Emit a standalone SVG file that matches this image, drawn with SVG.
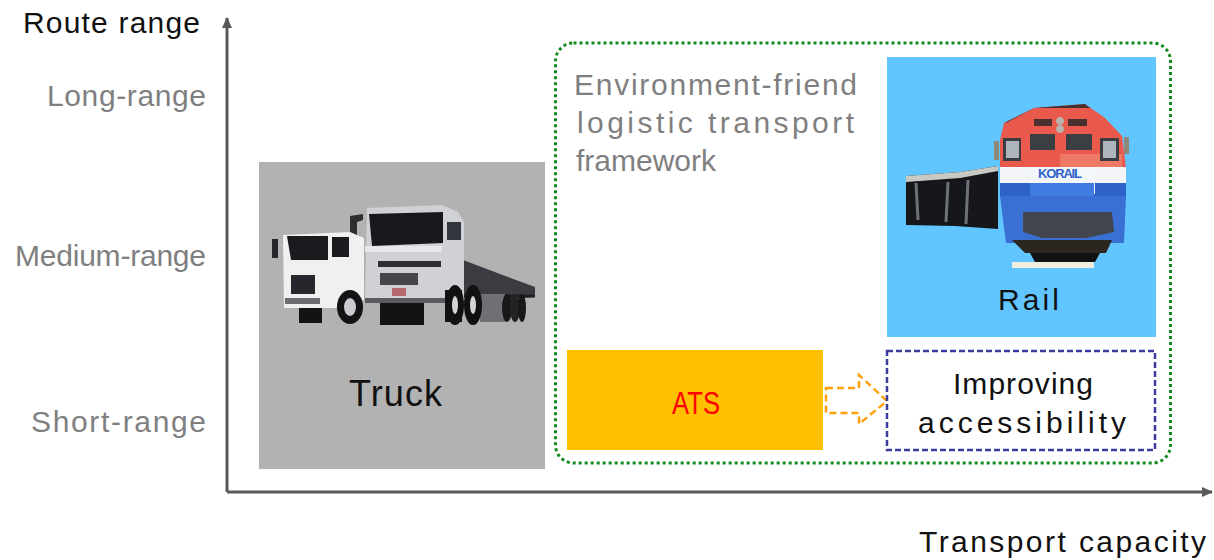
<svg xmlns="http://www.w3.org/2000/svg" width="1214" height="560" viewBox="0 0 1214 560">
<style>
text{font-family:"Liberation Sans","DejaVu Sans",sans-serif;font-size:30px;fill:#111}
.g{fill:#7f7f7f}
.ax{fill:none;stroke:#595959;stroke-width:3}
</style>
<defs>
<marker id="ah" markerWidth="12" markerHeight="12" refX="10" refY="5" orient="auto" markerUnits="userSpaceOnUse"><path d="M0 0L11 5L0 10Z" fill="#595959"/></marker>
</defs>
<rect width="1214" height="560" fill="#fff"/>
<g id="connectors">
<path class="ax" d="M227 492V18" marker-end="url(#ah)"/>
<path class="ax" d="M227 492H1212" marker-end="url(#ah)"/>
<path d="M826 388H859V375L887 401L859 424V413H826Z" fill="#fff" stroke="#ffa00f" stroke-width="2.5" stroke-dasharray="7 4"/>
</g>
<g id="axis-labels">
<text x="23" y="33" textLength="177">Route range</text>
<text class="g" x="47" y="106" textLength="159">Long-range</text>
<text class="g" x="15" y="266" textLength="191">Medium-range</text>
<text class="g" x="31" y="432" textLength="175">Short-range</text>
<text x="919" y="552" textLength="287">Transport capacity</text>
</g>
<g id="framework">
<rect x="555.500" y="43" width="615" height="420" rx="18" fill="none" stroke="#138a1e" stroke-width="3" stroke-dasharray="3 3"/>
<text class="g" x="574" y="95" textLength="283">Environment-friend</text>
<text class="g" x="577" y="133" textLength="277">logistic transport</text>
<text class="g" x="576" y="171" textLength="140">framework</text>
</g>
<g id="truck">
<rect x="259" y="162" width="286" height="307" fill="#b2b2b2"/>
<path d="M463 260L535 287V297L500 300L463 296Z" fill="#3a3c42"/>
<path d="M463 296H535" stroke="#1f2023" stroke-width="3"/>
<path d="M480 294H505V322H480Z" fill="#6f7076"/>
<path d="M272 239H278V258H272Z" fill="#26262a"/>
<path d="M350 216L363 214V220L357 222V252H350Z" fill="#2e2e30"/>
<path d="M283 235L350 232L364 238V300L335 308H284Z" fill="#f0f0f0"/>
<path d="M287 236H328V260H291ZM332 237H349V257H332Z" fill="#1b1b1f"/>
<path d="M291 275H315V294H291Z" fill="#26272c"/>
<path d="M285 298H320V304H285Z" fill="#6d6e72"/>
<path d="M299 308H322V323H299Z" fill="#131315"/>
<path d="M367 208L442 205L458 212L464 222V303H365Z" fill="#cfd1d6"/>
<path d="M369 214L443 212V243L372 246Z" fill="#17181c"/>
<path d="M447 222H461V240H447Z" fill="#33353c"/>
<path d="M378 261H441V267H378Z" fill="#2c2d32"/>
<path d="M380 273H418V285H380Z" fill="#45464c"/>
<path d="M365 246H442V252H365Z" fill="#e6e7ea"/>
<path d="M365 298H445V303H365Z" fill="#5a5b61"/>
<path d="M392 288H406V296H392Z" fill="#b46a70"/>
<path d="M380 303H424V325H380ZM445 290H462V322H445Z" fill="#121214"/>
<ellipse cx="350" cy="307" rx="13" ry="17" fill="#131315"/><ellipse cx="350" cy="307" rx="6" ry="9" fill="#c8cad0"/>
<ellipse cx="455" cy="305" rx="9" ry="20" fill="#111"/><ellipse cx="455" cy="305" rx="3" ry="9" fill="#d4d4d8"/>
<ellipse cx="473" cy="305" rx="9" ry="20" fill="#111"/><ellipse cx="473" cy="305" rx="3" ry="9" fill="#d4d4d8"/>
<ellipse cx="507" cy="308" rx="5" ry="14" fill="#18181a"/><ellipse cx="515" cy="308" rx="5" ry="14" fill="#232326"/><ellipse cx="522" cy="308" rx="4" ry="14" fill="#18181a"/>
<text x="349" y="406" style="font-size:36px" textLength="93">Truck</text>
</g>
<g id="rail">
<rect x="887" y="57" width="269" height="280" fill="#61c6ff"/>
<path d="M906 176L960 172L998 166V229L955 226L906 225Z" fill="#16171a"/>
<path d="M906 176L960 172L998 166V171L960 178L906 182Z" fill="#c9c9c4"/>
<path d="M916 183L918 220M948 182L946 222M968 180L966 224" stroke="#6e7278" stroke-width="3"/>
<path d="M1000 140L1004 123L1034 108L1085 104L1105 118L1122 136L1126 168H1000Z" fill="#e9594c"/>
<path d="M1004 123L1034 108L1085 104L1090 108H1034L1008 122Z" fill="#45312f"/>
<path d="M1060 154H1122V167H1060Z" fill="#f07a68"/>
<path d="M1000 167H1126V184H1000Z" fill="#f4f5f8"/>
<path d="M1000 183H1126V197H1000Z" fill="#2e62c8"/>
<path d="M1030 168H1095V194H1030Z" fill="#f4f7fc"/>
<path d="M1030 183H1094V196H1030Z" fill="#3f7be0"/>
<path d="M1000 196H1126L1124 243H1006Z" fill="#3a6fd4"/>
<path d="M1003 138H1021V161H1003ZM1100 138H1119V161H1100Z" fill="#3c3d42"/>
<path d="M1006 141H1019V158H1006ZM1103 141H1116V158H1103Z" fill="#aeb4bb"/>
<path d="M994 141H999V160H994ZM1124 137H1129V154H1124Z" fill="#8d8878"/>
<path d="M1030 134H1055V150H1030ZM1066 134H1092V150H1066Z" fill="#3a3f44"/>
<path d="M1034 119H1052V126H1034ZM1068 119H1087V126H1068Z" fill="#4a3030"/>
<path d="M1060 117a4 4 0 1 0 .1 0ZM1060 125a4 4 0 1 0 .1 0Z" fill="#b9b3ad"/>
<path d="M1023 212H1112L1114 232L1086 238H1042L1023 232Z" fill="#43464e"/>
<path d="M1012 240H1112L1106 253H1025Z" fill="#2c2620"/>
<path d="M1030 253H1100L1095 262H1035Z" fill="#111"/>
<path d="M1012 262H1094V268H1012Z" fill="#f1eee0"/>
<text x="1038" y="178" style="font-size:13px;font-weight:bold;fill:#2e62c8" textLength="44">KORAIL</text>
<text x="998" y="310" textLength="61">Rail</text>
</g>
<g id="ats">
<rect x="567" y="350" width="256" height="100" fill="#ffc000"/>
<text x="672" y="414" textLength="48" lengthAdjust="spacingAndGlyphs" style="fill:#ff0000;font-size:31px">ATS</text>
</g>
<g id="accessibility">
<rect x="887" y="351" width="268" height="99" fill="#fff" stroke="#3c3c9c" stroke-width="2.500" stroke-dasharray="6 3"/>
<text x="953" y="394" textLength="140">Improving</text>
<text x="918" y="433" textLength="208">accessibility</text>
</g>
</svg>
